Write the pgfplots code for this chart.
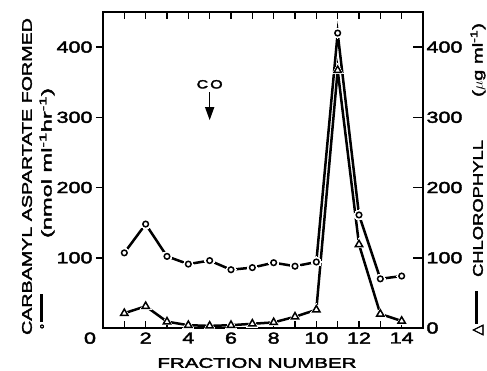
\documentclass[border=0pt]{standalone}
\usepackage{pgfplots}
\pgfplotsset{compat=1.18}
\usepackage{pgfplotstable}
\usepackage{fontspec}
\usetikzlibrary{arrows.meta}
\setmainfont{Liberation Sans}[FakeStretch=1.3, FakeBold=2.5]
\newfontfamily\tickfont{Liberation Sans}[FakeStretch=1.35, FakeBold=2.5]
\newfontfamily\symfont{DejaVu Sans}[FakeBold=3]
\newcommand\tickfnt{\tickfont\fontsize{16}{16}\selectfont}
\newcommand\labfnt{\fontsize{14}{14}\selectfont}

\pgfplotstableread{
x y
1 107
2 148
3 102
4 91
5 96
6 83
7 86
8 93
9 88
10 94
11 420
12 161
13 70
14 74
}\carb
\pgfplotstableread{
x y
1 21
2 31
3 9
4 4
5 3
6 4
7 6
8 8
9 16
10 26
11 367
12 119
13 20
14 10
}\chl

\begin{document}
\begin{tikzpicture}
\path[use as bounding box] (-103bp,-43bp) rectangle (384bp,328bp);
\begin{axis}[
  at={(0,0)}, anchor=origin,
  scale only axis, width=320bp, height=316bp,
  xmin=0, xmax=15, ymin=0, ymax=450,
  axis line style={line width=1.9bp},
  every tick/.style={line width=1.5bp, black},
  xtick={2,4,...,14},
  minor xtick={1,3,...,13},
  xtick align=inside,
  major tick length=7bp, minor tick length=7bp,
  ytick={100,200,300,400},
  ytick align=outside, ytick pos=left,
  extra x ticks={0}, extra x tick labels={0},
  extra x tick style={major tick length=0pt, xticklabel style={xshift=-13bp}},
  /pgf/number format/assume math mode=true,
  tick label style={font=\tickfnt},
  xticklabel style={yshift=-1bp},
  clip=false,
]
\addplot[black, line width=2.5bp, mark=triangle*, mark size=6.5bp,
  mark options={white, draw=white, line width=0pt}] table {\chl};
\addplot[black, line width=2.5bp, mark=*, mark size=5bp,
  mark options={white, draw=white, line width=0pt}] table {\carb};
\addplot[only marks, black, mark=triangle, mark size=4.2bp,
  mark options={line width=1.5bp}] table {\chl};
\addplot[only marks, black, mark=o, mark size=2.8bp,
  mark options={line width=1.5bp}] table {\carb};
\node[font=\labfnt\fontsize{12}{12}\selectfont] at (axis cs:5,347) {\resizebox{26bp}{\height}{C\hspace{2bp}O}};
\draw[line width=1.5bp, -{Triangle[length=13bp,width=9bp]}] (axis cs:5,336) -- (axis cs:5,296);
\end{axis}
\begin{axis}[
  at={(0,0)}, anchor=origin,
  scale only axis, width=320bp, height=316bp,
  xmin=0, xmax=15, ymin=0, ymax=450,
  axis x line=none, axis y line*=right,
  axis line style={line width=1.9bp},
  every tick/.style={line width=1.5bp, black},
  ytick={0,100,200,300,400},
  ytick align=inside, major tick length=10bp,
  /pgf/number format/assume math mode=true,
  tick label style={font=\tickfnt},
]
\end{axis}
% labels
\node[rotate=90, font=\labfnt] at (-76bp,151.5bp) {\resizebox{317bp}{\height}{CARBAMYL ASPARTATE FORMED}};
\node[rotate=90, font=\labfnt] at (-56bp,165bp) {\resizebox{150bp}{\height}{(nmol ml\textsuperscript{-1}hr\textsuperscript{-1})}};
\node[rotate=90, font=\labfnt, inner sep=0pt] at (-60bp,16bp) {{\symfont\fontsize{12}{12}\selectfont ∘}\hspace{1bp}\rule[3bp]{28bp}{2.4bp}};
\node[rotate=90, font=\labfnt, inner sep=0pt] at (375bp,15bp) {{\symfont\fontsize{14}{14}\selectfont △}\hspace{1bp}\rule[4bp]{33bp}{2.4bp}};
\node[rotate=90, font=\labfnt] at (375bp,119.5bp) {\resizebox{137bp}{\height}{CHLOROPHYLL}};
\node[rotate=90, font=\labfnt] at (375bp,268bp) {\resizebox{74bp}{\height}{($\mu$g ml\textsuperscript{-1})}};
\node[font=\labfnt] at (154bp,-35bp) {\resizebox{199bp}{\height}{FRACTION NUMBER}};
\end{tikzpicture}
\end{document}
